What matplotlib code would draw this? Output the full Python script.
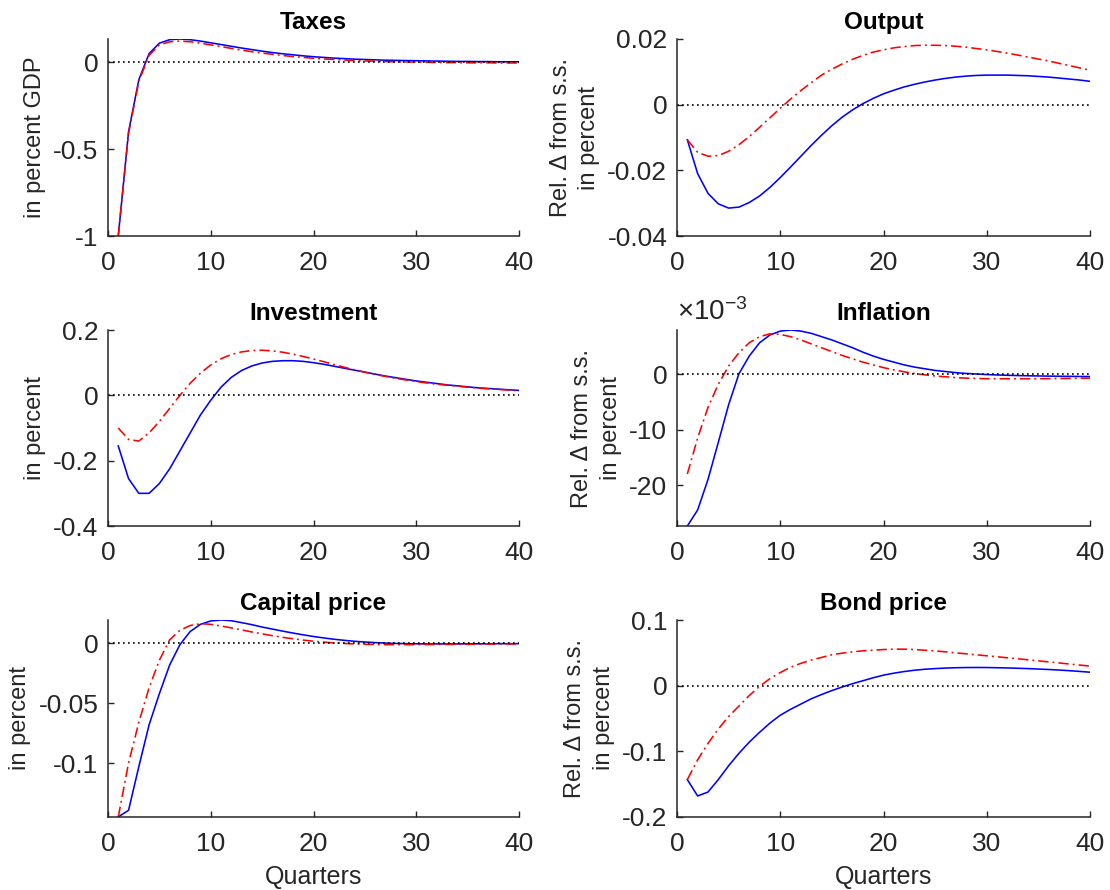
import matplotlib
matplotlib.use("Agg")
import matplotlib.pyplot as plt
from matplotlib.ticker import FuncFormatter

# ---------------- data ----------------
quarters = list(range(1, 41))

taxes_blue = [-1.00, -0.40, -0.10, 0.050, 0.110, 0.130, 0.134, 0.130, 0.122, 0.112,
              0.102, 0.092, 0.082, 0.073, 0.064, 0.056, 0.049, 0.043, 0.037, 0.032,
              0.028, 0.024, 0.021, 0.018, 0.016, 0.014, 0.012, 0.011, 0.010, 0.009,
              0.008, 0.007, 0.006, 0.005, 0.005, 0.004, 0.004, 0.003, 0.003, 0.003]
taxes_red = [-1.00, -0.41, -0.11, 0.040, 0.100, 0.118, 0.122, 0.118, 0.110, 0.100,
             0.090, 0.080, 0.070, 0.061, 0.053, 0.046, 0.039, 0.033, 0.028, 0.023,
             0.019, 0.016, 0.013, 0.010, 0.008, 0.006, 0.004, 0.003, 0.002, 0.001,
             0.000, -0.001, -0.002, -0.002, -0.003, -0.003, -0.003, -0.004, -0.004, -0.004]

output_blue = [-0.0107, -0.0210, -0.0270, -0.0302, -0.0315, -0.0312, -0.0298, -0.0278, -0.0252, -0.0222,
               -0.0190, -0.0157, -0.0124, -0.0093, -0.0064, -0.0038, -0.0016, 0.0003, 0.0019, 0.0033,
               0.0044, 0.0054, 0.0062, 0.0069, 0.0075, 0.0080, 0.0084, 0.0087, 0.0089, 0.0090,
               0.0090, 0.0090, 0.0089, 0.0088, 0.0086, 0.0084, 0.0081, 0.0078, 0.0075, 0.0071]
output_red = [-0.0107, -0.0145, -0.0157, -0.0155, -0.0142, -0.0122, -0.0097, -0.0069, -0.0040, -0.0011,
              0.0017, 0.0043, 0.0067, 0.0090, 0.0108, 0.0124, 0.0138, 0.0150, 0.0160, 0.0167,
              0.0173, 0.0177, 0.0180, 0.0181, 0.0181, 0.0180, 0.0178, 0.0175, 0.0171, 0.0167,
              0.0162, 0.0157, 0.0151, 0.0145, 0.0139, 0.0133, 0.0126, 0.0119, 0.0112, 0.0105]

invest_blue = [-0.155, -0.255, -0.300, -0.300, -0.270, -0.225, -0.170, -0.115, -0.060, -0.015,
               0.025, 0.055, 0.076, 0.090, 0.099, 0.104, 0.106, 0.106, 0.104, 0.100,
               0.095, 0.089, 0.083, 0.077, 0.071, 0.065, 0.059, 0.054, 0.049, 0.044,
               0.040, 0.036, 0.032, 0.029, 0.026, 0.023, 0.021, 0.019, 0.017, 0.015]
invest_red = [-0.100, -0.135, -0.140, -0.115, -0.080, -0.040, 0.000, 0.037, 0.068, 0.093,
              0.112, 0.125, 0.133, 0.137, 0.138, 0.136, 0.132, 0.126, 0.119, 0.111,
              0.103, 0.094, 0.086, 0.078, 0.071, 0.064, 0.058, 0.052, 0.047, 0.042,
              0.038, 0.034, 0.031, 0.028, 0.025, 0.022, 0.020, 0.018, 0.016, 0.014]

infl_blue = [-0.0274, -0.0245, -0.0190, -0.0123, -0.0055, 0.0001, 0.0033, 0.0057, 0.0071, 0.0078,
             0.0080, 0.0078, 0.0074, 0.0068, 0.0062, 0.0055, 0.0048, 0.0040, 0.0033, 0.0027,
             0.0022, 0.0017, 0.0013, 0.0010, 0.0007, 0.0005, 0.0003, 0.00015, 0.00005, -0.00005,
             -0.00012, -0.00018, -0.00023, -0.00027, -0.00030, -0.00033, -0.00035, -0.00037, -0.00039, -0.00040]
infl_red = [-0.0180, -0.0115, -0.0060, -0.0018, 0.0015, 0.0039, 0.0057, 0.0068, 0.0073, 0.0072,
            0.0068, 0.0062, 0.0055, 0.0048, 0.0041, 0.0034, 0.0028, 0.0022, 0.0017, 0.0012,
            0.0008, 0.00045, 0.00015, -0.0001, -0.0003, -0.00045, -0.0006, -0.0007, -0.00075, -0.0008,
            -0.0008, -0.0008, -0.0008, -0.0008, -0.0008, -0.00078, -0.00076, -0.00074, -0.00072, -0.0007]

capital_blue = [-0.1450, -0.1395, -0.1030, -0.0680, -0.0420, -0.0180, -0.0010, 0.0100, 0.0160, 0.0188,
                0.0196, 0.0190, 0.0174, 0.0157, 0.0137, 0.0120, 0.0103, 0.0087, 0.0072, 0.0058,
                0.0046, 0.0035, 0.0026, 0.0018, 0.0012, 0.0007, 0.0003, 0.0000, -0.0002, -0.0003,
                -0.0004, -0.0004, -0.0004, -0.0004, -0.0003, -0.0003, -0.0003, -0.0002, -0.0002, -0.0002]
capital_red = [-0.1450, -0.1000, -0.0660, -0.0370, -0.0140, 0.0030, 0.0110, 0.0150, 0.0165, 0.0160,
               0.0146, 0.0130, 0.0113, 0.0096, 0.0080, 0.0065, 0.0051, 0.0039, 0.0028, 0.0019,
               0.0011, 0.0005, 0.0000, -0.0004, -0.0007, -0.0009, -0.0010, -0.0010, -0.0010, -0.0010,
               -0.0009, -0.0009, -0.0008, -0.0007, -0.0007, -0.0006, -0.0005, -0.0005, -0.0004, -0.0004]

bond_blue = [-0.143, -0.168, -0.162, -0.143, -0.122, -0.103, -0.086, -0.071, -0.057, -0.045,
             -0.036, -0.028, -0.020, -0.0135, -0.0075, -0.002, 0.003, 0.0075, 0.012, 0.016,
             0.019, 0.0215, 0.0235, 0.025, 0.026, 0.0268, 0.0273, 0.0276, 0.0277, 0.0276,
             0.0273, 0.027, 0.0265, 0.026, 0.0253, 0.0246, 0.0238, 0.0228, 0.0217, 0.0205]
bond_red = [-0.143, -0.113, -0.088, -0.066, -0.047, -0.031, -0.015, -0.001, 0.0107, 0.020,
            0.028, 0.034, 0.039, 0.043, 0.047, 0.0495, 0.0515, 0.053, 0.054, 0.055,
            0.0556, 0.0556, 0.055, 0.054, 0.053, 0.0515, 0.050, 0.0485, 0.047, 0.0455,
            0.044, 0.0425, 0.041, 0.0394, 0.0378, 0.0362, 0.0346, 0.033, 0.0314, 0.0298]

titles = ["Taxes", "Output", "Investment", "Inflation", "Capital price", "Bond price"]
ylabels = ["in percent GDP", "Rel. \u0394 from s.s.\nin percent",
           "in percent", "Rel. \u0394 from s.s.\nin percent",
           "in percent", "Rel. \u0394 from s.s.\nin percent"]
xticks = [0, 10, 20, 30, 40]
yticks_list = [[-1, -0.5, 0], [-0.04, -0.02, 0, 0.02], [-0.4, -0.2, 0, 0.2],
               [-0.02, -0.01, 0], [-0.1, -0.05, 0], [-0.2, -0.1, 0, 0.1]]
ylims = [(-1.0, 0.134), (-0.04, 0.02), (-0.4, 0.2), (-0.0274, 0.0080),
         (-0.1451, 0.0196), (-0.2, 0.1)]
blue_series = [taxes_blue, output_blue, invest_blue, infl_blue, capital_blue, bond_blue]
red_series = [taxes_red, output_red, invest_red, infl_red, capital_red, bond_red]

# ---------------- style ----------------
plt.rcParams["font.family"] = ["Liberation Sans", "DejaVu Sans"]
plt.rcParams["axes.unicode_minus"] = False
plt.rcParams["mathtext.fontset"] = "custom"
plt.rcParams["mathtext.rm"] = "Liberation Sans"
plt.rcParams["mathtext.it"] = "Liberation Sans"
axc = "#262626"

fig = plt.figure(figsize=(11.1, 8.9), dpi=100)
W, H = 1110, 890
col_x = [(108, 411), (677, 413)]
row_y = [(39, 236), (330, 526), (620, 817)]

for i in range(6):
    r, c = divmod(i, 2)
    x0, w = col_x[c]
    top, bot = row_y[r]
    ax = fig.add_axes([x0 / W, 1 - bot / H, w / W, (bot - top) / H])
    ax.plot(quarters, blue_series[i], color=(0, 0, 1), lw=1.15)
    ax.plot(quarters, red_series[i], color=(1, 0, 0), lw=1.15,
            linestyle=(0, (6.5, 2.5, 1.2, 2.5)))
    ax.axhline(0, color="k", lw=1.2, linestyle=(0, (1, 2.0)))
    ax.set_xlim(0, 40)
    ax.set_ylim(*ylims[i])
    ax.set_xticks(xticks)
    ax.set_yticks(yticks_list[i])
    if i == 3:
        ax.yaxis.set_major_formatter(FuncFormatter(lambda v, p: "%g" % round(v * 1000, 6)))
        ax.text(0.0, 1.02, r"$\times10^{-3}$", transform=ax.transAxes, fontsize=20,
                color=axc, ha="left", va="bottom")
    else:
        ax.yaxis.set_major_formatter(FuncFormatter(lambda v, p: "%g" % round(v, 6)))
    for s in ["top", "right"]:
        ax.spines[s].set_visible(False)
    for s in ["left", "bottom"]:
        ax.spines[s].set_color(axc)
        ax.spines[s].set_linewidth(1.1)
    ax.tick_params(direction="in", length=4, width=1.0, colors=axc, labelsize=19)
    ax.tick_params(axis="x", pad=11)
    ax.tick_params(axis="y", pad=7)
    ax.set_title(titles[i], fontsize=17.5, fontweight="bold", pad=7)
    ax.set_ylabel(ylabels[i], fontsize=17, color=axc, labelpad=5, linespacing=1.4)
    if r == 2:
        ax.set_xlabel("Quarters", fontsize=18, color=axc, labelpad=6)

fig.savefig("out.png", dpi=100)
